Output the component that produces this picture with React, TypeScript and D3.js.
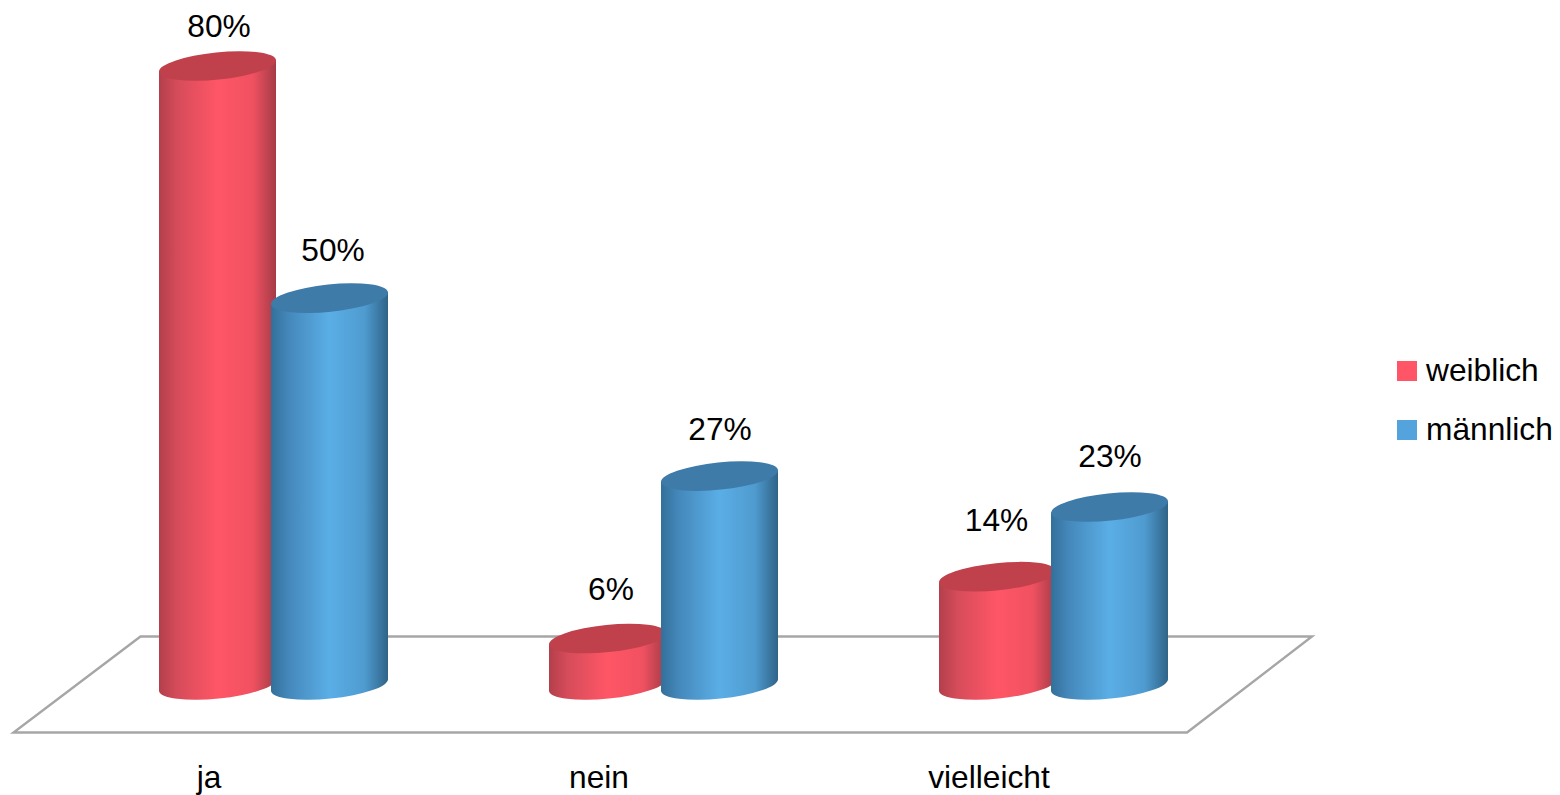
import React from "react";
import * as d3 from "d3";

const categories = ["ja", "nein", "vielleicht"];
const seriesNames = ["weiblich", "männlich"];
const weiblich = [80, 6, 14];
const maennlich = [50, 27, 23];
const labelNudgeW: [number, number][] = [[1.5, -29], [3.5, -39], [-1, -46]];
const labelNudgeM: [number, number][] = [[3.5, -37.5], [0.5, -36], [0.5, -40]];

const W = 1560, H = 795;
const FONT = "'Liberation Sans', Arial, sans-serif";
const TEXT_SIZE = 31.7;
const HALF = 58.5, TILT = 6, RY = 13.6;
const RX = Math.hypot(HALF, TILT);
const ROT = (-Math.atan2(TILT, HALF) * 180) / Math.PI;

const y = d3.scaleLinear().domain([0, 80]).range([685, 66]);
const x = d3.scalePoint<string>().domain(categories).range([209, 989]);

const redStops: [string, string][] = [["0%", "#b33f4c"], ["16%", "#d64c5a"], ["50%", "#ff5666"], ["80%", "#f05161"], ["100%", "#a53b47"]];
const blueStops: [string, string][] = [["0%", "#33709b"], ["16%", "#4589bc"], ["50%", "#5aaee6"], ["80%", "#4f9bd0"], ["100%", "#2f6488"]];

function Gradient({ id, stops }: { id: string; stops: [string, string][] }) {
  return (
    <linearGradient id={id} x1="0" x2="1" y1="0" y2="0">
      {stops.map(([o, c]) => <stop key={o} offset={o} stopColor={c} />)}
    </linearGradient>
  );
}

function Cylinder({ cx, value, grad, cap }: { cx: number; value: number; grad: string; cap: string }) {
  const t = y(value), b = y(0);
  const L = cx - HALF, R = cx + HALF;
  const body = `M${L},${t + TILT} L${L},${b + TILT} A${RX},${RY} ${ROT} 0 0 ${R},${b - TILT} L${R},${t - TILT} Z`;
  const top = `M${L},${t + TILT} A${RX},${RY} ${ROT} 1 1 ${R},${t - TILT} A${RX},${RY} ${ROT} 1 1 ${L},${t + TILT} Z`;
  return (
    <g>
      <path d={body} fill={`url(#${grad})`} />
      <path d={top} fill={cap} />
    </g>
  );
}

export default function App() {
  const floor = d3.line()([[13.5, 732.5], [1187, 732.5], [1312, 636.5], [140.5, 636.5]]) + "Z";
  const textProps = { fontFamily: FONT, fontSize: TEXT_SIZE, fill: "#000" };
  return (
    <svg width={W} height={H} viewBox={`0 0 ${W} ${H}`} style={{ position: "fixed", left: 0, top: 0, background: "#fff" }}>
      <defs>
        <Gradient id="red" stops={redStops} />
        <Gradient id="blue" stops={blueStops} />
      </defs>
      <path d={floor} fill="#fff" stroke="#a6a6a6" strokeWidth={2.4} />
      {categories.map((c, i) => (
        <g key={c}>
          <Cylinder cx={x(c)! + 8.5} value={weiblich[i]} grad="red" cap="#c0404c" />
          <Cylinder cx={x(c)! + 120.5} value={maennlich[i]} grad="blue" cap="#3e7ba8" />
          <text {...textProps} x={x(c)! + 8.5 + labelNudgeW[i][0]} y={y(weiblich[i]) + labelNudgeW[i][1]} textAnchor="middle">{weiblich[i]}%</text>
          <text {...textProps} x={x(c)! + 120.5 + labelNudgeM[i][0]} y={y(maennlich[i]) + labelNudgeM[i][1]} textAnchor="middle">{maennlich[i]}%</text>
          <text {...textProps} x={x(c)!} y={788} textAnchor="middle">{c}</text>
        </g>
      ))}
      {seriesNames.map((s, i) => (
        <g key={s}>
          <rect x={1397} y={361 + i * 59} width={20} height={20} fill={i === 0 ? "#ff5566" : "#55a3dd"} />
          <text {...textProps} x={1426} y={381 + i * 59}>{s}</text>
        </g>
      ))}
    </svg>
  );
}
